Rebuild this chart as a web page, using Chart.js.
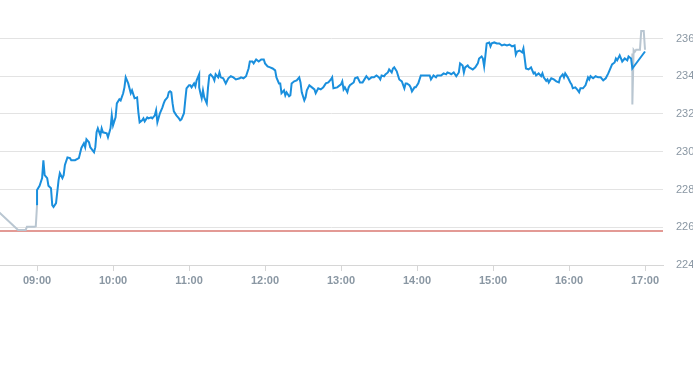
<!DOCTYPE html>
<html>
<head>
<meta charset="utf-8">
<script src="https://cdn.jsdelivr.net/npm/chart.js@4"></script>
<style>
    html, body { margin: 0; padding: 0; background: #fff; }
    #wrap { position: relative; width: 693px; height: 290px; }
</style>
</head>
<body>
<div id="wrap"><canvas id="intradayChart"></canvas></div>
<script>
// Previous close (red reference line)
const prevClose = 225.8;

// Pre-market (grey)
const preTimes = ['08:30', '08:45', '08:51', '08:52', '08:58', '08:59', '09:00'];
const prePrices = [226.8, 225.85, 225.85, 226.02, 226.02, 226.05, 227.17];

// Regular session (blue)
const marketTimes = [
    '09:00', '09:00', '09:02', '09:04', '09:05', '09:06', '09:08', '09:09', '09:11', '09:12',
    '09:13', '09:15', '09:17', '09:18', '09:20', '09:21', '09:22', '09:24', '09:26', '09:27',
    '09:30', '09:33', '09:35', '09:37', '09:38', '09:39', '09:41', '09:42', '09:45', '09:46',
    '09:47', '09:48', '09:50', '09:51', '09:52', '09:55', '09:56', '09:58', '09:59', '10:00',
    '10:02', '10:03', '10:05', '10:06', '10:08', '10:09', '10:10', '10:12', '10:14', '10:15',
    '10:17', '10:19', '10:20', '10:21', '10:23', '10:24', '10:25', '10:27', '10:28', '10:30',
    '10:31', '10:33', '10:34', '10:35', '10:37', '10:39', '10:40', '10:41', '10:43', '10:44',
    '10:45', '10:46', '10:47', '10:48', '10:50', '10:52', '10:53', '10:54', '10:56', '10:57',
    '10:58', '11:00', '11:01', '11:02', '11:04', '11:05', '11:06', '11:08', '11:08', '11:09',
    '11:10', '11:11', '11:12', '11:13', '11:14', '11:15', '11:16', '11:17', '11:19', '11:20',
    '11:21', '11:23', '11:24', '11:25', '11:27', '11:29', '11:31', '11:33', '11:35', '11:37',
    '11:40', '11:41', '11:43', '11:45', '11:47', '11:48', '11:50', '11:51', '11:53', '11:55',
    '11:57', '11:59', '12:00', '12:02', '12:04', '12:06', '12:08', '12:09', '12:11', '12:12',
    '12:13', '12:15', '12:16', '12:17', '12:19', '12:20', '12:21', '12:23', '12:25', '12:27',
    '12:28', '12:29', '12:31', '12:32', '12:33', '12:35', '12:37', '12:39', '12:40', '12:42',
    '12:44', '12:46', '12:48', '12:50', '12:52', '12:53', '12:54', '12:57', '13:00', '13:01',
    '13:02', '13:03', '13:05', '13:06', '13:07', '13:10', '13:11', '13:13', '13:15', '13:17',
    '13:18', '13:20', '13:22', '13:24', '13:26', '13:28', '13:30', '13:31', '13:32', '13:34',
    '13:35', '13:37', '13:38', '13:40', '13:41', '13:42', '13:44', '13:45', '13:46', '13:48',
    '13:50', '13:51', '13:52', '13:54', '13:55', '13:56', '13:58', '13:59', '14:01', '14:03',
    '14:05', '14:08', '14:10', '14:11', '14:13', '14:15', '14:16', '14:19', '14:21', '14:23',
    '14:24', '14:26', '14:27', '14:29', '14:31', '14:33', '14:34', '14:36', '14:37', '14:38',
    '14:40', '14:41', '14:44', '14:46', '14:48', '14:49', '14:51', '14:52', '14:53', '14:54',
    '14:55', '14:57', '14:58', '14:59', '15:01', '15:03', '15:05', '15:07', '15:09', '15:11',
    '15:13', '15:15', '15:17', '15:18', '15:19', '15:21', '15:23', '15:24', '15:25', '15:26',
    '15:28', '15:30', '15:32', '15:33', '15:34', '15:36', '15:38', '15:39', '15:40', '15:42',
    '15:43', '15:44', '15:45', '15:46', '15:48', '15:50', '15:52', '15:53', '15:55', '15:56',
    '15:57', '15:59', '16:01', '16:02', '16:03', '16:05', '16:07', '16:08', '16:09', '16:11',
    '16:13', '16:14', '16:15', '16:16', '16:17', '16:19', '16:21', '16:23', '16:25', '16:27',
    '16:29', '16:31', '16:33', '16:34', '16:36', '16:37', '16:38', '16:40', '16:41', '16:42',
    '16:44', '16:46', '16:47', '16:49', '16:50', '17:00'
];
const marketPrices = [
    227.17, 227.97, 228.2, 228.6, 229.55, 228.76, 228.6, 228.2, 228.07, 227.17,
    227.07, 227.28, 228.5, 228.87, 228.6, 228.76, 229.3, 229.7, 229.66, 229.55,
    229.55, 229.66, 230.2, 230.45, 230.24, 230.66, 230.5, 230.24, 229.97, 230.24,
    231.03, 231.24, 230.87, 231.24, 231.03, 230.98, 230.77, 231.24, 231.93, 231.4,
    231.82, 232.56, 232.78, 232.72, 233.1, 233.41, 233.94, 233.62, 233.1, 233.25,
    232.83, 232.88, 232.09, 231.56, 231.67, 231.77, 231.61, 231.82, 231.77, 231.82,
    231.77, 231.93, 232.19, 231.56, 232.04, 232.35, 232.56, 232.72, 232.88, 233.15,
    233.2, 233.15, 232.56, 232.14, 231.93, 231.77, 231.67, 231.72, 232.04, 232.72,
    233.36, 233.52, 233.52, 233.41, 233.62, 233.46, 233.78, 234.1, 233.41, 233.1,
    232.83, 233.25, 232.88, 232.72, 232.56, 233.41, 234.04, 234.1, 233.94, 233.78,
    234.1, 233.94, 234.2, 233.94, 233.89, 233.62, 233.89, 234.0, 233.94, 233.83,
    233.89, 233.94, 233.89, 234.0, 234.41, 234.78, 234.78, 234.68, 234.89, 234.78,
    234.89, 234.89, 234.68, 234.52, 234.47, 234.41, 234.31, 233.94, 233.62, 233.62,
    233.1, 233.25, 232.99, 233.15, 232.94, 232.99, 233.62, 233.73, 233.78, 233.94,
    233.67, 233.15, 232.72, 232.88, 233.25, 233.52, 233.41, 233.3, 233.1, 233.36,
    233.3, 233.41, 233.62, 233.67, 233.83, 233.94, 233.36, 233.41, 233.57, 233.73,
    233.3, 233.41, 233.15, 233.41, 233.52, 233.67, 233.89, 233.94, 233.67, 233.67,
    233.78, 234.0, 233.83, 233.94, 233.94, 234.04, 233.94, 233.83, 234.04, 234.0,
    234.1, 234.2, 234.36, 234.2, 234.41, 234.47, 234.26, 234.04, 233.83, 233.73,
    233.36, 233.62, 233.62, 233.52, 233.41, 233.2, 233.41, 233.41, 233.62, 234.04,
    234.04, 234.04, 234.04, 233.83, 234.04, 233.94, 234.04, 234.04, 234.15, 234.1,
    234.2, 234.15, 234.1, 234.2, 234.0, 234.2, 234.68, 234.57, 234.2, 234.47,
    234.57, 234.47, 234.36, 234.47, 234.68, 234.94, 235.05, 234.94, 234.52, 235.1,
    235.74, 235.79, 235.58, 235.74, 235.79, 235.74, 235.74, 235.63, 235.68, 235.63,
    235.68, 235.58, 235.63, 235.15, 235.31, 235.36, 235.26, 235.47, 234.94, 234.41,
    234.36, 234.47, 234.15, 234.2, 234.04, 234.15, 234.0, 234.15, 233.94, 233.75,
    233.83, 233.67, 233.78, 233.89, 233.83, 233.73, 233.67, 233.94, 234.1, 233.94,
    234.15, 233.94, 233.67, 233.57, 233.36, 233.41, 233.25, 233.15, 233.36, 233.36,
    233.52, 233.73, 233.94, 233.83, 234.0, 233.89, 234.0, 233.94, 233.94, 233.78,
    233.89, 234.15, 234.47, 234.63, 234.73, 234.94, 234.84, 235.1, 234.94, 234.78,
    234.94, 234.84, 235.05, 234.94, 234.41, 235.31
];

// After-hours (grey)
const postTimes = ['16:50', '16:50', '16:51', '16:52', '16:53', '16:55', '16:56', '16:57', '16:59', '17:00'];
const postPrices = [235.2, 232.5, 235.4, 235.3, 235.4, 235.4, 235.4, 236.4, 236.4, 235.4];

// Axis
const xMin = 510.75;   // ~08:31
const xMax = 1034.2;   // ~17:14
const yMin = 224;
const yMax = 237.0;

function toMin(t) {
    const p = t.split(':');
    return +p[0] * 60 + +p[1];
}
function pad(n) { return (n < 10 ? '0' : '') + n; }
function toPoints(times, prices) {
    return times.map((t, i) => ({ x: toMin(t), y: prices[i] }));
}

const ctx = document.getElementById('intradayChart').getContext('2d');
new Chart(ctx, {
    type: 'line',
    data: {
        datasets: [
            {
                label: 'Market',
                data: toPoints(marketTimes, marketPrices),
                borderColor: '#1a8fdd',
                borderWidth: 2,
                pointRadius: 0,
                tension: 0
            },
            {
                label: 'Post',
                data: toPoints(postTimes, postPrices),
                borderColor: '#b9c6d1',
                borderWidth: 2,
                pointRadius: 0,
                tension: 0
            },
            {
                label: 'Pre',
                data: toPoints(preTimes, prePrices),
                borderColor: '#b9c6d1',
                borderWidth: 2,
                pointRadius: 0,
                tension: 0
            },
            {
                label: 'Prev close',
                data: [{ x: xMin, y: prevClose }, { x: xMax, y: prevClose }],
                borderColor: '#c8372d',
                borderWidth: 1.2,
                pointRadius: 0,
                tension: 0
            }
        ]
    },
    options: {
        responsive: true,
        maintainAspectRatio: false,
        animation: false,
        layout: { padding: { top: 1, left: 0, right: 0, bottom: 0 } },
        plugins: {
            legend: { display: false },
            tooltip: { enabled: false }
        },
        scales: {
            x: {
                type: 'linear',
                min: xMin,
                max: xMax,
                afterBuildTicks: (s) => {
                    s.ticks = [];
                    for (let v = 540; v <= 1020; v += 60) s.ticks.push({ value: v });
                },
                afterFit: (s) => { s.height = 25; },
                grid: {
                    drawOnChartArea: false,
                    drawTicks: true,
                    tickLength: 6,
                    color: '#d6d6d6'
                },
                border: { display: true, color: '#d6d6d6' },
                ticks: {
                    autoSkip: false,
                    maxRotation: 0,
                    padding: 3,
                    color: '#8a97a3',
                    font: { family: "'Liberation Sans', Arial, sans-serif", size: 11, weight: 'bold' },
                    callback: (v) => pad(Math.floor(v / 60)) + ':' + pad(v % 60)
                }
            },
            y: {
                position: 'right',
                min: yMin,
                max: yMax,
                afterBuildTicks: (s) => {
                    s.ticks = [];
                    for (let v = 224; v <= 236; v += 2) s.ticks.push({ value: v });
                },
                afterFit: (s) => { s.width = 30; },
                grid: {
                    color: '#e3e3e3',
                    drawTicks: false
                },
                border: { display: false },
                ticks: {
                    padding: 13,
                    color: '#8a97a3',
                    font: { family: "'Liberation Sans', Arial, sans-serif", size: 11 }
                }
            }
        }
    }
});
</script>
</body>
</html>
